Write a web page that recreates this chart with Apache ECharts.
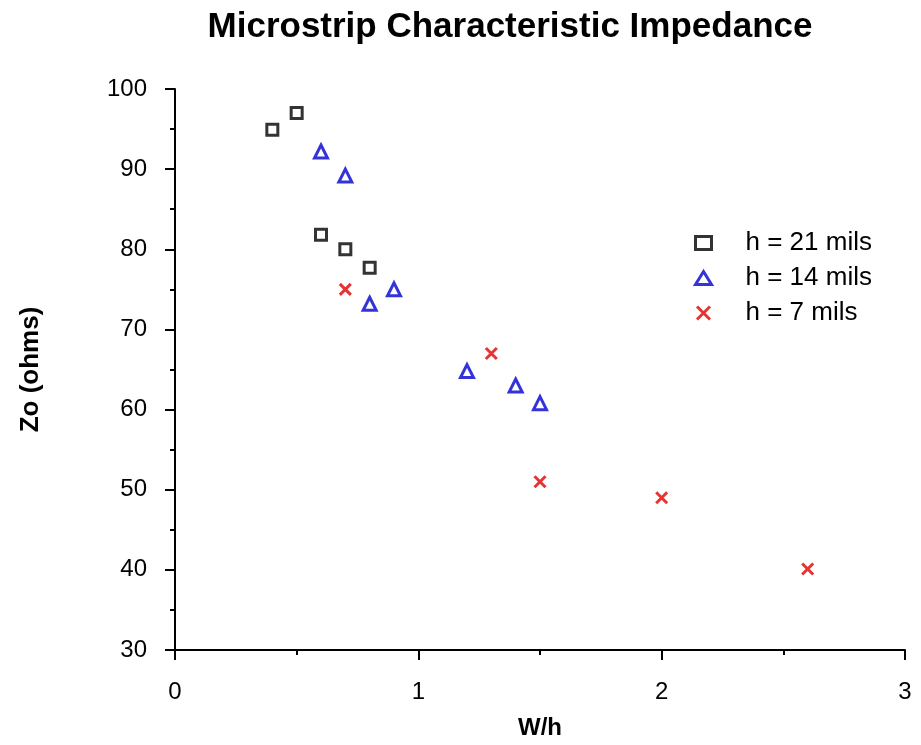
<!DOCTYPE html>
<html lang="en">
<head>
    <meta charset="UTF-8">
    <title>Microstrip Characteristic Impedance</title>
    <style>
        html, body { margin: 0; padding: 0; background: #fff; }
        #chart { width: 921px; height: 745px; }
    </style>
</head>
<body>
<div id="chart"></div>
<script src="https://cdn.jsdelivr.net/npm/echarts@6/dist/echarts.min.js"></script>
<script>
    // W/h vs Zo for three substrate heights
    const h21W = [0.4, 0.5, 0.6, 0.7, 0.8];
    const h21Zo = [94.9, 97.0, 81.8, 80.0, 77.7];

    const h14W = [0.6, 0.7, 0.8, 0.9, 1.2, 1.4, 1.5];
    const h14Zo = [92.2, 89.2, 73.2, 75.0, 64.8, 63.0, 60.8];

    const h7W = [0.7, 1.3, 1.5, 2.0, 2.6];
    const h7Zo = [75.0, 67.0, 51.0, 49.0, 40.1];

    const xTicks = [0, 1, 2, 3];
    const yTicks = [30, 40, 50, 60, 70, 80, 90, 100];

    const pairs = (xs, ys) => xs.map((x, i) => [x, ys[i]]);

    const font = 'Liberation Sans, Arial, sans-serif';

    const axisCommon = {
        axisLine: { show: true, lineStyle: { color: '#000', width: 2 } },
        axisTick: { show: true, inside: false, length: 10, lineStyle: { color: '#000', width: 2 } },
        minorTick: { show: true, splitNumber: 2, length: 5, lineStyle: { color: '#000', width: 2 } },
        splitLine: { show: false },
        minorSplitLine: { show: false }
    };

    const chart = echarts.init(document.getElementById('chart'));
    chart.setOption({
        animation: false,
        backgroundColor: '#fff',
        title: {
            text: 'Microstrip Characteristic Impedance',
            left: 505,
            textAlign: 'center',
            top: 5,
            textStyle: { color: '#000', fontSize: 35, fontWeight: 'bold', fontFamily: font }
        },
        grid: { left: 175, right: 16, top: 89, bottom: 88 },
        legend: {
            orient: 'vertical',
            left: 689,
            top: 225,
            itemWidth: 16,
            itemHeight: 13,
            itemGap: 9,
            itemStyle: { borderWidth: 3 },
            textStyle: { color: '#000', fontSize: 26, lineHeight: 26, fontFamily: font, padding: [0, 0, 0, 29] },
            data: ['h = 21 mils', 'h = 14 mils', 'h = 7 mils']
        },
        xAxis: Object.assign({}, axisCommon, {
            type: 'value',
            min: xTicks[0],
            max: xTicks[xTicks.length - 1],
            interval: 1,
            axisLabel: { color: '#000', fontSize: 24, fontFamily: font, margin: 30 },
            name: 'W/h',
            nameLocation: 'middle',
            nameGap: 66,
            nameTextStyle: { color: '#000', fontWeight: 'bold', fontFamily: font, fontSize: 24 }
        }),
        yAxis: Object.assign({}, axisCommon, {
            type: 'value',
            min: yTicks[0],
            max: yTicks[yTicks.length - 1],
            interval: 10,
            axisLabel: { color: '#000', fontSize: 24, fontFamily: font, margin: 28 },
            name: 'Zo (ohms)',
            nameLocation: 'middle',
            nameGap: 131,
            nameTextStyle: { color: '#000', fontWeight: 'bold', fontFamily: font, fontSize: 26 }
        }),
        series: [
            {
                name: 'h = 21 mils',
                type: 'scatter',
                symbol: 'rect',
                symbolSize: 11,
                itemStyle: { color: '#fff', borderColor: '#000', borderWidth: 3 },
                data: pairs(h21W, h21Zo)
            },
            {
                name: 'h = 14 mils',
                type: 'scatter',
                symbol: 'triangle',
                symbolSize: 13,
                itemStyle: { color: '#fff', borderColor: '#0000d0', borderWidth: 3 },
                data: pairs(h14W, h14Zo)
            },
            {
                name: 'h = 7 mils',
                type: 'scatter',
                symbol: 'path://M0,0L10,10M10,0L0,10',
                symbolSize: 11,
                itemStyle: { color: 'none', borderColor: '#e00000', borderWidth: 3 },
                data: pairs(h7W, h7Zo)
            }
        ]
    });
</script>
</body>
</html>
